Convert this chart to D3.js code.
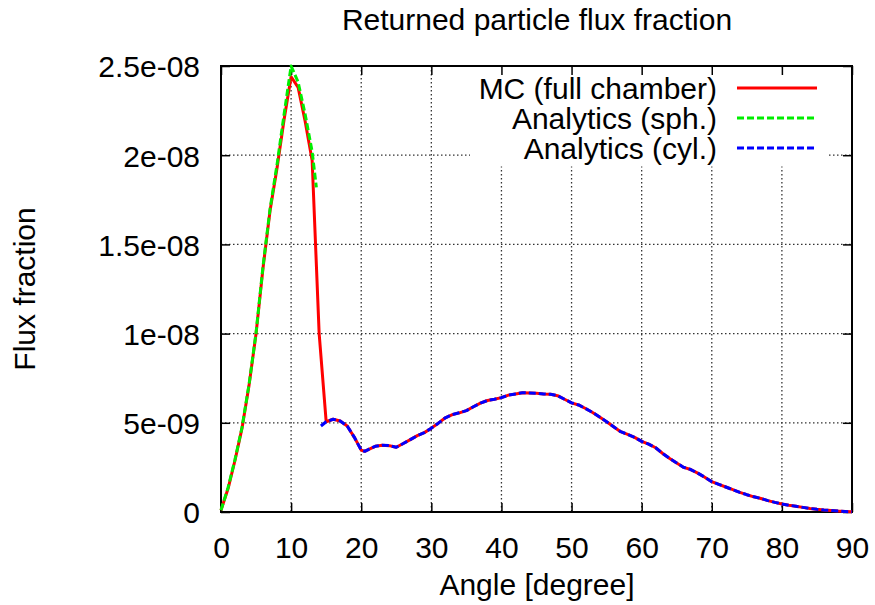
<!DOCTYPE html>
<html>
<head>
<meta charset="utf-8">
<script src="https://cdn.jsdelivr.net/npm/d3@7"></script>
<style>
  html, body { margin: 0; padding: 0; background: #fff; }
  svg { display: block; }
  text { font-family: "Liberation Sans", Arial, Helvetica, sans-serif; fill: #000; }
</style>
</head>
<body>
<svg id="chart" width="875" height="605"></svg>
<script>
// ---------------- data ----------------
const title = "Returned particle flux fraction";
const xLabel = "Angle [degree]";
const yLabel = "Flux fraction";

const xTicks = [0, 10, 20, 30, 40, 50, 60, 70, 80, 90];
const xTickLabels = ["0", "10", "20", "30", "40", "50", "60", "70", "80", "90"];
const yTicks = [0, 5e-9, 1e-8, 1.5e-8, 2e-8, 2.5e-8];
const yTickLabels = ["0", "5e-09", "1e-08", "1.5e-08", "2e-08", "2.5e-08"];

const seriesNames = ["MC (full chamber)", "Analytics (sph.)", "Analytics (cyl.)"];

// shared tail (15..90 deg)
const tailAngles = [15,16,17,18,19,20,20.5,21,22,23,24,25,26,27,28,29,30,31,32,33,34,35,36,37,38,39,40,
  41,42,43,44,45,46,47,48,49,50,51,52,53,54,55,56,57,58,59,60,61,62,63,64,65,66,67,68,69,70,
  71,72,73,74,75,76,77,78,79,80,81,82,83,84,85,86,87,88,89,90];
const tailValues = [5.06e-9,5.2e-9,5.1e-9,4.82e-9,4.2e-9,3.47e-9,3.4e-9,3.5e-9,3.68e-9,3.74e-9,3.72e-9,3.63e-9,
  3.84e-9,4.06e-9,4.28e-9,4.45e-9,4.7e-9,4.98e-9,5.28e-9,5.46e-9,5.56e-9,5.68e-9,5.9e-9,6.1e-9,6.25e-9,6.32e-9,6.41e-9,
  6.55e-9,6.62e-9,6.69e-9,6.67e-9,6.65e-9,6.62e-9,6.6e-9,6.52e-9,6.32e-9,6.12e-9,6.0e-9,5.8e-9,5.58e-9,5.32e-9,5.06e-9,
  4.78e-9,4.5e-9,4.35e-9,4.18e-9,3.96e-9,3.8e-9,3.6e-9,3.28e-9,3.0e-9,2.75e-9,2.5e-9,2.38e-9,2.18e-9,1.95e-9,1.7e-9,
  1.55e-9,1.4e-9,1.25e-9,1.1e-9,0.97e-9,0.85e-9,0.76e-9,0.64e-9,0.54e-9,0.45e-9,0.38e-9,0.32e-9,0.26e-9,0.2e-9,
  0.15e-9,0.11e-9,0.08e-9,0.05e-9,0.03e-9,0.01e-9];

// MC (full chamber): 0..14 deg head + shared tail
const mcHeadAngles = [0,1,2,3,4,5,6,7,8,9,10,11,12,13,14];
const mcHeadValues = [0.1e-9,1.3e-9,2.9e-9,4.7e-9,7.1e-9,10.0e-9,13.7e-9,16.9e-9,19.3e-9,22.0e-9,24.4e-9,23.8e-9,21.9e-9,19.7e-9,10.0e-9];

// Analytics (sph.)
const sphAngles = [0,1,2,3,4,5,6,7,8,9,10,11,12,13,13.6];
const sphValues = [0.1e-9,1.35e-9,2.95e-9,4.75e-9,7.15e-9,10.05e-9,13.8e-9,17.0e-9,19.5e-9,22.3e-9,25.0e-9,24.1e-9,22.3e-9,20.2e-9,18.2e-9];

// Analytics (cyl.): starts at 14.25 deg + shared tail
const cylHeadAngles = [14.25];
const cylHeadValues = [4.82e-9];

// ---------------- layout ----------------
const svg = d3.select("#chart");
const plot = { left: 221, right: 852, top: 66, bottom: 512 };

const x = d3.scaleLinear().domain([0, 90]).range([plot.left, plot.right]);
const y = d3.scaleLinear().domain([0, 2.5e-8]).range([plot.bottom, plot.top]);

const FS = 30;

// grid
const grid = svg.append("g");
xTicks.forEach((t, i) => {
  if (i === 0 || i === xTicks.length - 1) return;
  grid.append("line")
    .attr("x1", x(t)).attr("x2", x(t))
    .attr("y1", plot.top).attr("y2", plot.bottom)
    .attr("stroke", "#333").attr("stroke-width", 1.3)
    .attr("stroke-dasharray", "1.5,2.5");
});
yTicks.forEach((t, i) => {
  if (i === 0 || i === yTicks.length - 1) return;
  grid.append("line")
    .attr("x1", plot.left).attr("x2", plot.right)
    .attr("y1", y(t)).attr("y2", y(t))
    .attr("stroke", "#333").attr("stroke-width", 1.3)
    .attr("stroke-dasharray", "1.5,2.5");
});

// legend background (opaque, hides grid)
svg.append("rect")
  .attr("x", 470).attr("y", plot.top + 1.5)
  .attr("width", 358).attr("height", 99)
  .attr("fill", "#fff");

// axes via d3 axis generators (inward ticks on all four sides)
const tickLen = 9;
const axB = svg.append("g").attr("transform", `translate(0,${plot.bottom})`)
  .call(d3.axisBottom(x).tickValues(xTicks).tickSizeInner(-tickLen).tickSizeOuter(0)
    .tickFormat((d, i) => xTickLabels[i]).tickPadding(25));
const axT = svg.append("g").attr("transform", `translate(0,${plot.top})`)
  .call(d3.axisTop(x).tickValues(xTicks).tickSizeInner(-tickLen).tickSizeOuter(0).tickFormat(""));
const axL = svg.append("g").attr("transform", `translate(${plot.left},0)`)
  .call(d3.axisLeft(y).tickValues(yTicks).tickSizeInner(-tickLen).tickSizeOuter(0)
    .tickFormat((d, i) => yTickLabels[i]).tickPadding(21));
const axR = svg.append("g").attr("transform", `translate(${plot.right},0)`)
  .call(d3.axisRight(y).tickValues(yTicks).tickSizeInner(-tickLen).tickSizeOuter(0).tickFormat(""));

[axB, axT, axL, axR].forEach(g => {
  g.select(".domain").remove();
  g.selectAll(".tick line").attr("stroke", "#000").attr("stroke-width", 1.5);
  g.selectAll(".tick text").attr("font-size", FS).attr("font-family", "Liberation Sans, Arial, sans-serif").attr("fill", "#000");
});
axB.selectAll(".tick text").attr("dy", "0.71em");
axL.selectAll(".tick text").attr("dy", "0.36em");

// border
svg.append("rect")
  .attr("x", plot.left).attr("y", plot.top)
  .attr("width", plot.right - plot.left).attr("height", plot.bottom - plot.top)
  .attr("fill", "none").attr("stroke", "#000").attr("stroke-width", 2);

// lines
const line = d3.line().x(d => x(d[0])).y(d => y(d[1]));
const mcData = mcHeadAngles.map((a, i) => [a, mcHeadValues[i]])
  .concat(tailAngles.map((a, i) => [a, tailValues[i]]));
const sphData = sphAngles.map((a, i) => [a, sphValues[i]]);
const cylData = cylHeadAngles.map((a, i) => [a, cylHeadValues[i]])
  .concat(tailAngles.map((a, i) => [a, tailValues[i]]));

const colors = ["#ff0000", "#00ee00", "#0000ff"];
const dashes = [null, "7,3", "7,3"];
[mcData, sphData, cylData].forEach((data, i) => {
  svg.append("path")
    .datum(data)
    .attr("d", line)
    .attr("fill", "none")
    .attr("stroke", colors[i])
    .attr("stroke-width", 3)
    .attr("stroke-linejoin", "round")
    .attr("stroke-dasharray", dashes[i]);
});

// legend
const legRowY = [88, 118, 148];
seriesNames.forEach((name, i) => {
  svg.append("text")
    .attr("x", 717).attr("y", legRowY[i])
    .attr("dy", "0.36em")
    .attr("text-anchor", "end")
    .attr("font-size", FS)
    .text(name);
  svg.append("line")
    .attr("x1", 737).attr("x2", 817)
    .attr("y1", legRowY[i]).attr("y2", legRowY[i])
    .attr("stroke", colors[i]).attr("stroke-width", 3)
    .attr("stroke-dasharray", dashes[i]);
});

// titles
svg.append("text")
  .attr("x", 537).attr("y", 30)
  .attr("text-anchor", "middle").attr("font-size", FS)
  .text(title);
svg.append("text")
  .attr("x", 537).attr("y", 595)
  .attr("text-anchor", "middle").attr("font-size", FS)
  .text(xLabel);
svg.append("text")
  .attr("transform", "translate(35,289) rotate(-90)")
  .attr("text-anchor", "middle").attr("font-size", FS)
  .text(yLabel);
</script>
</body>
</html>
